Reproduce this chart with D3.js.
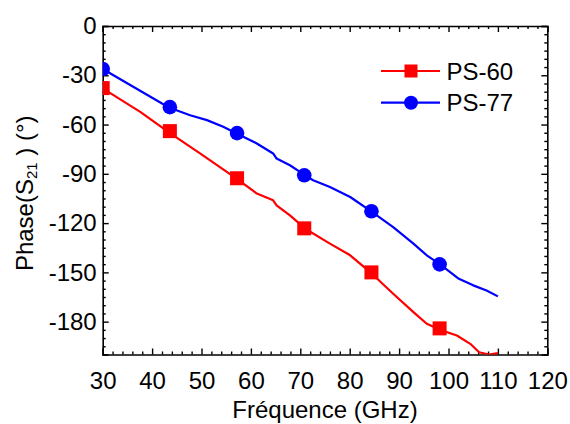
<!DOCTYPE html>
<html>
<head>
<meta charset="utf-8">
<script src="https://cdn.jsdelivr.net/npm/d3@7/dist/d3.min.js"></script>
<style>
  html, body { margin: 0; padding: 0; background: #fff; }
  svg { display: block; }
  text { font-family: Arial, "Liberation Sans", Helvetica, sans-serif; fill: #000; }
</style>
</head>
<body>
<svg id="chart" width="570" height="424"></svg>
<script>
// ---- data ----
const seriesNames = ["PS-60", "PS-77"];
const seriesColors = ["#ff0000", "#0000ff"];

const ps60Freq  = [30, 37.6, 43.4, 49.7, 57.1, 61.2, 64.5, 65.2, 67.9, 71.0, 76.0, 80.1, 84.5, 88.8, 92.9, 95.6, 98.3, 101.7, 104.4, 106.2, 108.2, 110];
const ps60Phase = [-38.0, -52.3, -64.8, -77.6, -92.9, -102.0, -106.1, -109.2, -115.3, -123.4, -132.5, -139.6, -150.8, -163.0, -174.2, -181.3, -185.0, -188.4, -193.5, -198.6, -200.0, -199.2];

const ps77Freq  = [30, 43.4, 47.7, 51.1, 54.4, 57.1, 61.2, 64.5, 65.2, 67.9, 71.0, 72.6, 76.0, 80.1, 84.5, 88.8, 92.9, 95.6, 98.3, 102.1, 105.0, 107.7, 110];
const ps77Phase = [-26.2, -49.6, -54.3, -57.3, -61.4, -65.4, -71.5, -77.6, -80.7, -84.8, -90.9, -93.9, -98.0, -104.1, -113.2, -122.4, -132.5, -139.6, -145.1, -153.9, -157.9, -161.0, -164.6];

const markerFreq = [30, 43.6, 57.2, 70.8, 84.4, 98.2];
const ps60Markers = [-37.8, -64.0, -92.7, -123.2, -150.0, -184.1];
const ps77Markers = [-26.2, -49.4, -65.2, -90.9, -112.8, -145.1];

const xTicks = [30, 40, 50, 60, 70, 80, 90, 100, 110, 120];
const yTicks = [0, -30, -60, -90, -120, -150, -180];
const xTitle = "Fréquence (GHz)";

// ---- layout ----
const svg = d3.select("#chart");
const L = 102.7, R = 547.3, T = 26, B = 354.5;
const x = d3.scaleLinear().domain([30, 120]).range([L, R]);
const y = d3.scaleLinear().domain([-200, 0]).range([B, T]);

const xMinor = d3.range(30, 120.01, 2).filter(v => v % 10 !== 0);
const yMinor = d3.range(-200, 0.01, 5).filter(v => v % 30 !== 0);

// clip
svg.append("defs").append("clipPath").attr("id", "clip")
  .append("rect").attr("x", L).attr("y", T).attr("width", R - L).attr("height", B - T);

const fs = 24;
function styleAxis(g) {
  g.selectAll("path").attr("stroke", "#000").attr("stroke-width", 1.6);
  g.selectAll("line").attr("stroke", "#000").attr("stroke-width", 1.4);
  g.selectAll("text").style("font-size", fs + "px").attr("fill", "#000");
}

// bottom
svg.append("g").attr("transform", `translate(0,${B})`)
  .call(d3.axisBottom(x).tickValues(xTicks).tickSize(-6).tickPadding(17).tickFormat(d3.format("d")))
  .call(styleAxis);
svg.append("g").attr("transform", `translate(0,${B})`)
  .call(d3.axisBottom(x).tickValues(xMinor).tickSize(-3).tickFormat(""))
  .call(styleAxis).select("path").remove();
// top
svg.append("g").attr("transform", `translate(0,${T})`)
  .call(d3.axisTop(x).tickValues(xTicks).tickSize(-6).tickFormat(""))
  .call(styleAxis);
svg.append("g").attr("transform", `translate(0,${T})`)
  .call(d3.axisTop(x).tickValues(xMinor).tickSize(-3).tickFormat(""))
  .call(styleAxis).select("path").remove();
// left
svg.append("g").attr("transform", `translate(${L},0)`)
  .call(d3.axisLeft(y).tickValues(yTicks).tickSize(-6).tickPadding(6).tickFormat(d3.format("d")))
  .call(styleAxis);
svg.append("g").attr("transform", `translate(${L},0)`)
  .call(d3.axisLeft(y).tickValues(yMinor).tickSize(-3).tickFormat(""))
  .call(styleAxis).select("path").remove();
// right
svg.append("g").attr("transform", `translate(${R},0)`)
  .call(d3.axisRight(y).tickValues(yTicks).tickSize(-6).tickFormat(""))
  .call(styleAxis);
svg.append("g").attr("transform", `translate(${R},0)`)
  .call(d3.axisRight(y).tickValues(yMinor).tickSize(-3).tickFormat(""))
  .call(styleAxis).select("path").remove();

// replace minus sign with hyphen
svg.selectAll(".tick text").text(function() { return d3.select(this).text().replace("\u2212", "-"); });

// ---- series ----
const plot = svg.append("g").attr("clip-path", "url(#clip)");
const line = d3.line().x(d => x(d[0])).y(d => y(d[1]));

const lines = [
  d3.zip(ps60Freq, ps60Phase),
  d3.zip(ps77Freq, ps77Phase)
];
lines.forEach((pts, i) => {
  plot.append("path").datum(pts).attr("d", line)
    .attr("fill", "none").attr("stroke", seriesColors[i]).attr("stroke-width", 2.2)
    .attr("stroke-linejoin", "round");
});

const ms = 14;
plot.selectAll("rect.m60").data(d3.zip(markerFreq, ps60Markers)).enter().append("rect")
  .attr("class", "m60")
  .attr("x", d => x(d[0]) - ms / 2).attr("y", d => y(d[1]) - ms / 2)
  .attr("width", ms).attr("height", ms).attr("fill", seriesColors[0]);
plot.selectAll("circle.m77").data(d3.zip(markerFreq, ps77Markers)).enter().append("circle")
  .attr("class", "m77")
  .attr("cx", d => x(d[0])).attr("cy", d => y(d[1])).attr("r", ms / 2 + 0.3)
  .attr("fill", seriesColors[1]);

// ---- legend ----
const leg = svg.append("g");
const legRows = [71, 102.7];
seriesNames.forEach((name, i) => {
  const ly = legRows[i];
  leg.append("line").attr("x1", 381).attr("x2", 440).attr("y1", ly).attr("y2", ly)
    .attr("stroke", seriesColors[i]).attr("stroke-width", 2.2);
  if (i === 0) {
    leg.append("rect").attr("x", 411 - 6.5).attr("y", ly - 6.5).attr("width", 13).attr("height", 13)
      .attr("fill", seriesColors[i]);
  } else {
    leg.append("circle").attr("cx", 411).attr("cy", ly).attr("r", 7).attr("fill", seriesColors[i]);
  }
  leg.append("text").attr("x", 446.5).attr("y", ly).attr("dy", "0.36em")
    .style("font-size", fs + "px").text(name);
});

// ---- axis titles ----
svg.append("text").attr("x", (L + R) / 2).attr("y", 418).attr("text-anchor", "middle")
  .style("font-size", fs + "px").text(xTitle);

const yt = svg.append("text")
  .attr("transform", `translate(33,${(T + B) / 2 + 3}) rotate(-90)`)
  .attr("text-anchor", "middle").style("font-size", fs + "px");
yt.append("tspan").text("Phase(S");
yt.append("tspan").attr("baseline-shift", "-28%").style("font-size", "15px").text("21");
yt.append("tspan").text(" ) (°)");
</script>
</body>
</html>
